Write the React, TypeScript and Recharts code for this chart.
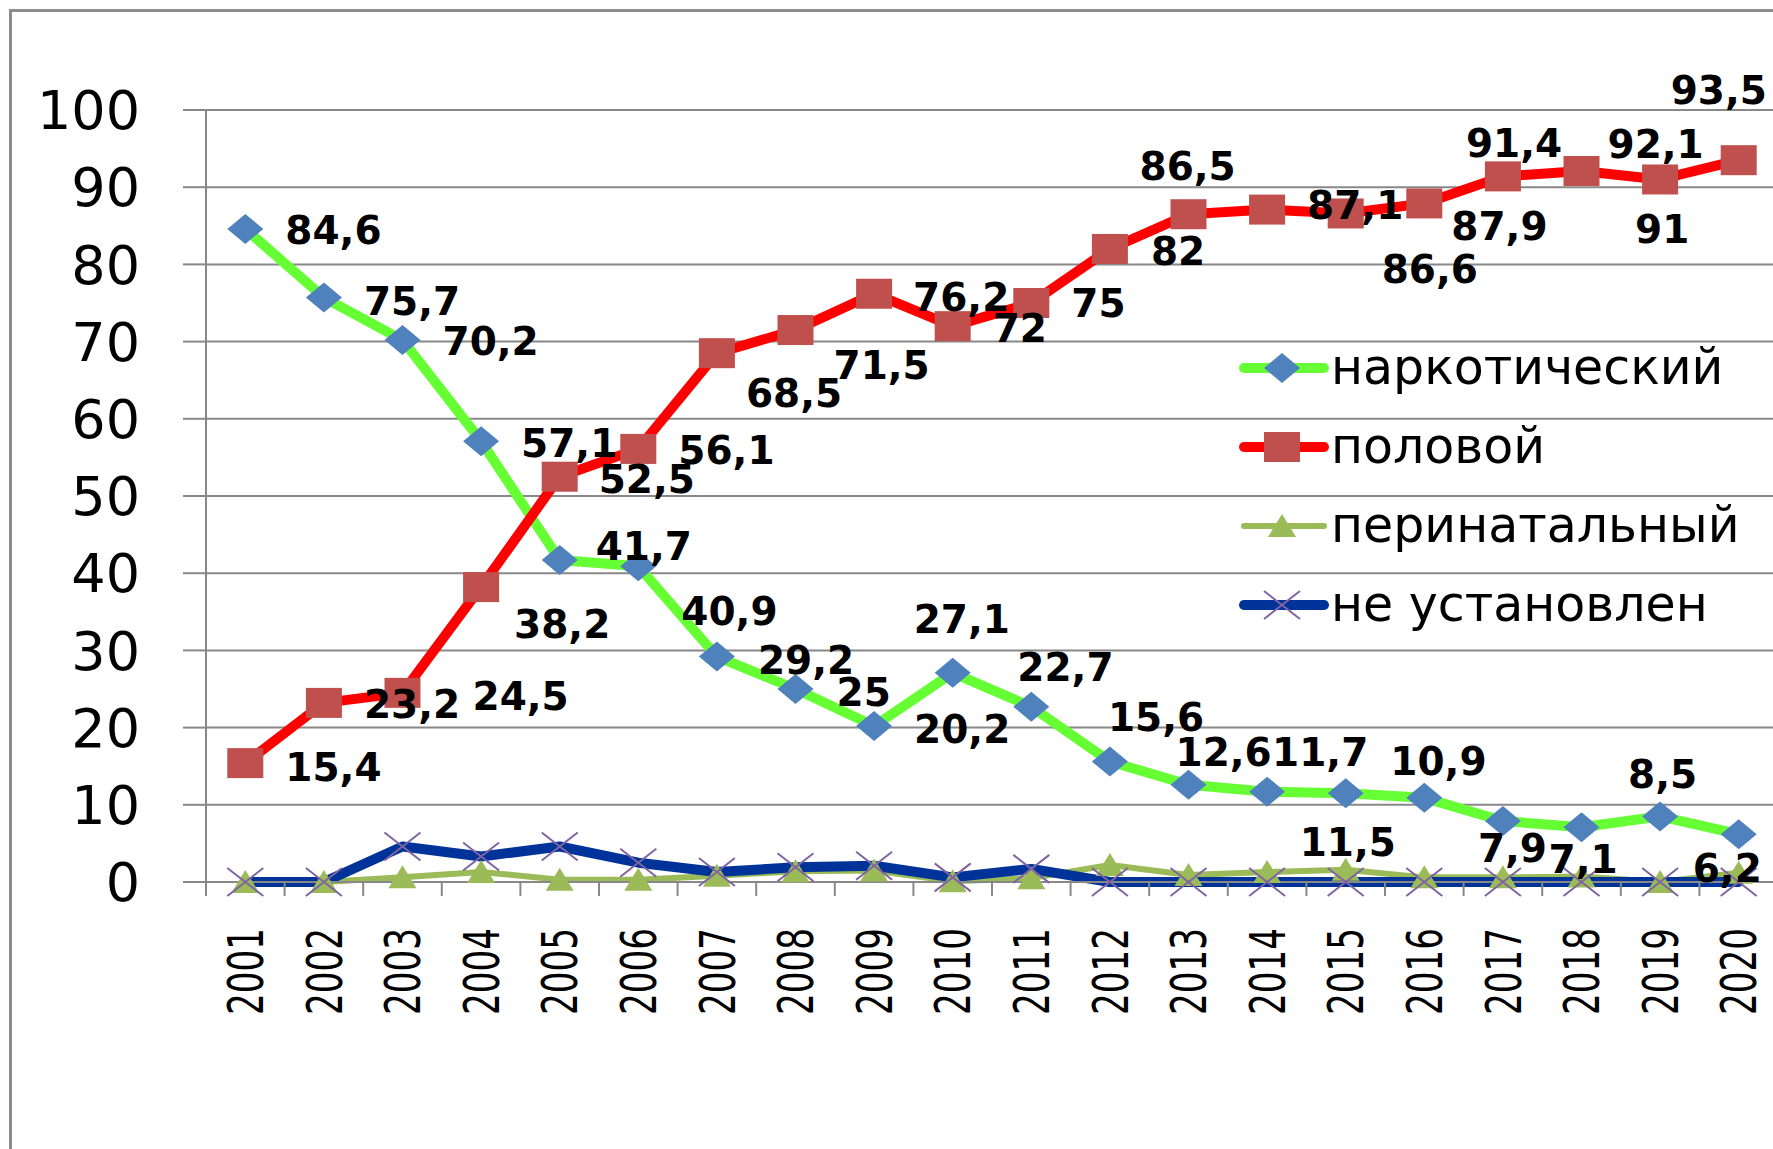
import { LineChart, Line, XAxis, YAxis, CartesianGrid, LabelList, Legend } from "recharts";

const FONT = "'DejaVu Sans', sans-serif";
const GRID = "#888888";

const years = ["2001", "2002", "2003", "2004", "2005", "2006", "2007", "2008", "2009", "2010", "2011", "2012", "2013", "2014", "2015", "2016", "2017", "2018", "2019", "2020"];
const drug = [84.6, 75.7, 70.2, 57.1, 41.7, 40.9, 29.2, 25, 20.2, 27.1, 22.7, 15.6, 12.6, 11.7, 11.5, 10.9, 7.9, 7.1, 8.5, 6.2];
const sexual = [15.4, 23.2, 24.5, 38.2, 52.5, 56.1, 68.5, 71.5, 76.2, 72, 75, 82, 86.5, 87.1, 86.6, 87.9, 91.4, 92.1, 91, 93.5];
const perinatal = [0, 0, 0.6, 1.3, 0.3, 0.3, 0.8, 1.4, 1.5, 0.1, 0.5, 2.2, 0.9, 1.3, 1.6, 0.6, 0.6, 0.7, 0, 1.2];
const unknown = [0, 0, 4.6, 3.3, 4.6, 2.5, 1.3, 1.9, 2.1, 0.6, 1.7, 0, 0, 0, 0, 0, 0, 0, 0, 0];
const yTicks = [0, 10, 20, 30, 40, 50, 60, 70, 80, 90, 100];

// where each data label sits relative to its point (left edge, vertical centre)
const drugLabelShift = [
  [40, 1], [40, 3], [40, 1], [40, 2], [36, -14], [43, 45], [41, 3], [41, 3], [40, 3], [-39, -54],
  [-14, -40], [-2, -45], [-13, -33], [5, -40], [-46, 49], [-34, -37], [-25, 27], [-33, 32], [-32, -42], [-46, 34],
];
const sexualLabelShift = [
  [40, 4], [40, 1], [70, 3], [33, 37], [39, 2], [40, 1], [29, 40], [38, 35], [39, 3], [40, 2],
  [40, 0], [41, 2], [-49, -48], [40, -5], [36, 56], [27, 23], [-37, -33], [26, -27], [-25, 49], [-68, -70],
];

const data = years.map((year, i) => ({
  pos: i + 1,
  year,
  drug: drug[i],
  sexual: sexual[i],
  perinatal: perinatal[i],
  unknown: unknown[i],
}));

// category centres get labels, the half steps get the tick marks
const xTicks = years.flatMap((_, i) => [i + 0.5, i + 1]).concat(years.length + 0.5);

function diamond(cx: number, cy: number, key?: string) {
  return <path key={key} d={`M${cx} ${cy - 15}L${cx + 18} ${cy}L${cx} ${cy + 15}L${cx - 18} ${cy}Z`} fill="#4F81BD" />;
}
function square(cx: number, cy: number, key?: string) {
  return <rect key={key} x={cx - 18} y={cy - 15} width={36} height={30} fill="#C0504D" />;
}
function triangle(cx: number, cy: number, key?: string) {
  return <path key={key} d={`M${cx} ${cy - 12}L${cx + 14} ${cy + 11}L${cx - 14} ${cy + 11}Z`} fill="#9BBB59" />;
}
function cross(cx: number, cy: number, key?: string) {
  return (
    <path
      key={key}
      d={`M${cx - 18} ${cy - 14}L${cx + 18} ${cy + 14}M${cx - 18} ${cy + 14}L${cx + 18} ${cy - 14}`}
      stroke="#8064A2"
      strokeWidth={2}
      fill="none"
    />
  );
}

const series = [
  { key: "drug", name: "наркотический", color: "#66FF33", width: 10, marker: diamond },
  { key: "sexual", name: "половой", color: "#FF0000", width: 10, marker: square },
  { key: "perinatal", name: "перинатальный", color: "#9BBB59", width: 6, marker: triangle },
  { key: "unknown", name: "не установлен", color: "#003399", width: 10, marker: cross },
];

function YearTick(props: any) {
  const { x, y, payload } = props;
  const v = payload.value;
  if (!Number.isInteger(v)) {
    return <line x1={x} y1={y} x2={x} y2={y + 14} stroke={GRID} strokeWidth={2} />;
  }
  const ty = y + 46;
  return (
    <text
      x={x}
      y={ty}
      transform={`rotate(-90 ${x} ${ty})`}
      textAnchor="end"
      dy="0.36em"
      fontSize={49}
      textLength={87}
      lengthAdjust="spacingAndGlyphs"
      fontFamily={FONT}
      fill="#000"
    >
      {years[v - 1]}
    </text>
  );
}

function makeLabel(shift: number[][]) {
  return (p: any) => {
    const x = p.x ?? p.viewBox?.x;
    const y = p.y ?? p.viewBox?.y;
    const [dx, dy] = shift[p.index] ?? [40, 0];
    return (
      <text x={x + dx} y={y + dy} dy="0.36em" fontSize={39} fontWeight="bold" fontFamily={FONT} fill="#000">
        {String(p.value).replace(".", ",")}
      </text>
    );
  };
}

function LegendBox() {
  return (
    <div style={{ position: "absolute", left: 1239, top: 328, fontFamily: FONT, fontSize: 49, color: "#000" }}>
      {series.map((s) => (
        <div key={s.key} style={{ display: "flex", alignItems: "center", height: 79, whiteSpace: "nowrap" }}>
          <svg width={90} height={40} style={{ overflow: "visible" }}>
            <line x1={5} y1={20} x2={85} y2={20} stroke={s.color} strokeWidth={s.width} strokeLinecap="round" />
            {s.marker(43, 20)}
          </svg>
          <span style={{ marginLeft: 2 }}>{s.name}</span>
        </div>
      ))}
    </div>
  );
}

export default function App() {
  return (
    <div style={{ position: "absolute", left: 0, top: 0, width: 1773, height: 1149, overflow: "hidden", background: "#fff", fontFamily: FONT }}>
      <div style={{ position: "absolute", left: 9, top: 9, width: 1800, height: 1200, border: "3px solid #8c8c8c" }} />
      <div style={{ position: "absolute", left: 0, top: 0 }}>
        <LineChart width={1790} height={1149} data={data} margin={{ top: 110, right: 12, bottom: 0, left: 0 }}>
          <CartesianGrid vertical={false} stroke={GRID} strokeWidth={2} />
          <XAxis
            dataKey="pos"
            type="number"
            domain={[0.5, 20.5]}
            ticks={xTicks}
            interval={0}
            height={267}
            tickSize={0}
            tickMargin={0}
            tickLine={false}
            axisLine={{ stroke: GRID, strokeWidth: 2 }}
            tick={<YearTick />}
          />
          <YAxis
            domain={[0, 100]}
            ticks={yTicks}
            interval={0}
            width={206}
            tickSize={23}
            tickMargin={43}
            axisLine={{ stroke: GRID, strokeWidth: 2 }}
            tickLine={{ stroke: GRID, strokeWidth: 2 }}
            tick={{ fontSize: 54, fill: "#000", fontFamily: FONT }}
          />
          <Legend verticalAlign="top" align="left" wrapperStyle={{ left: 0, top: 0, width: 0, height: 0 }} content={() => <LegendBox />} />
          {series.map((s) => (
            <Line
              key={s.key}
              dataKey={s.key}
              name={s.name}
              type="linear"
              stroke={s.color}
              strokeWidth={s.width}
              strokeLinejoin="round"
              strokeLinecap="round"
              isAnimationActive={false}
              dot={(p: any) => s.marker(p.cx, p.cy, `${s.key}-${p.index}`)}
              activeDot={false}
            >
              {s.key === "drug" && <LabelList dataKey="drug" content={makeLabel(drugLabelShift)} />}
              {s.key === "sexual" && <LabelList dataKey="sexual" content={makeLabel(sexualLabelShift)} />}
            </Line>
          ))}
        </LineChart>
      </div>
    </div>
  );
}
